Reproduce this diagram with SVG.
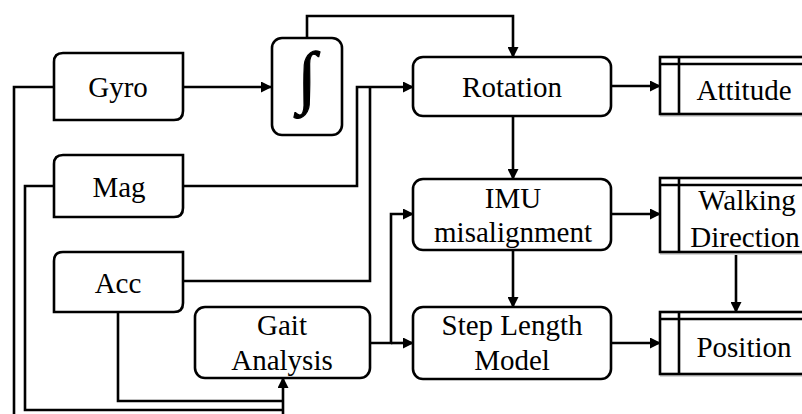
<svg xmlns="http://www.w3.org/2000/svg" width="802" height="414" viewBox="0 0 802 414">
<style>
.box{fill:#fff;stroke:#000;stroke-width:2.6}
.ln{fill:none;stroke:#000;stroke-width:2.6}
.shadow{fill:#d6d6d6;stroke:none}
text{font-family:"Liberation Serif","Times New Roman",serif;font-size:29px;fill:#000;text-anchor:middle}
</style>
<defs>
<marker id="ah" markerUnits="userSpaceOnUse" markerWidth="11" markerHeight="11" refX="10" refY="5.5" orient="auto">
<path d="M0,0 L11,5.5 L0,11 z" fill="#000"/>
</marker>
</defs>
<rect width="802" height="414" fill="#fff"/>
<g id="connectors" class="ln">
<path d="M183 87 H271" marker-end="url(#ah)"/>
<path d="M307 38 V16 H513 V57" marker-end="url(#ah)"/>
<path d="M183 186 H357 V87 H413" marker-end="url(#ah)"/>
<path d="M183 281 H370 V87"/>
<path d="M611 86 H660" marker-end="url(#ah)"/>
<path d="M513 116 V179" marker-end="url(#ah)"/>
<path d="M611 214 H660" marker-end="url(#ah)"/>
<path d="M513 250 V307" marker-end="url(#ah)"/>
<path d="M736 252 V312" marker-end="url(#ah)"/>
<path d="M611 343 H660" marker-end="url(#ah)"/>
<path d="M370 343 H391 V214 H413" marker-end="url(#ah)"/>
<path d="M391 343 H413" marker-end="url(#ah)"/>
<path d="M54 87 H14 V416"/>
<path d="M54 186 H25 V410 H283"/>
<path d="M118 312 V401 H283"/>
<path d="M283 416 V378" marker-end="url(#ah)"/>
</g>
<g id="gyro">
<path class="box" d="M63 53 H183 V111 Q183 120 174 120 H54 V62 Q54 53 63 53 Z"/>
<text x="118" y="97">Gyro</text>
</g>
<g id="mag">
<path class="box" d="M63 155 H183 V208 Q183 217 174 217 H54 V164 Q54 155 63 155 Z"/>
<text x="119" y="197">Mag</text>
</g>
<g id="acc">
<path class="box" d="M63 252 H183 V303 Q183 312 174 312 H54 V261 Q54 252 63 252 Z"/>
<text x="118" y="293">Acc</text>
</g>
<g id="integral">
<rect class="box" x="272" y="38" width="70" height="97" rx="10"/>
<text x="307" y="100" style="font-size:69px;stroke:#000;stroke-width:1.2">∫</text>
</g>
<g id="rotation">
<rect class="box" x="413" y="57" width="198" height="59" rx="10"/>
<text x="512" y="97">Rotation</text>
</g>
<g id="imu">
<rect class="box" x="413" y="179" width="198" height="71" rx="10"/>
<text x="513" y="208">IMU</text>
<text x="513" y="242">misalignment</text>
</g>
<g id="step">
<rect class="box" x="413" y="307" width="198" height="72" rx="10"/>
<text x="512" y="335">Step Length</text>
<text x="512" y="370">Model</text>
</g>
<g id="gait">
<rect class="box" x="195" y="307" width="175" height="71" rx="10"/>
<text x="282" y="335">Gait</text>
<text x="282" y="370">Analysis</text>
</g>
<g id="attitude">
<rect class="shadow" x="660" y="58" width="160" height="59"/>
<rect class="box" x="660" y="57" width="160" height="57"/>
<path class="ln" d="M660 64 H820 M679 57 V114"/>
<text x="744" y="100">Attitude</text>
</g>
<g id="walking">
<rect class="shadow" x="660" y="179" width="160" height="76"/>
<rect class="box" x="660" y="178" width="160" height="74"/>
<path class="ln" d="M660 185 H820 M679 178 V252"/>
<text x="747" y="210">Walking</text>
<text x="745" y="247">Direction</text>
</g>
<g id="position">
<rect class="shadow" x="660" y="313" width="160" height="64"/>
<rect class="box" x="660" y="312" width="160" height="62"/>
<path class="ln" d="M660 319 H820 M679 312 V374"/>
<text x="744" y="357">Position</text>
</g>
</svg>
